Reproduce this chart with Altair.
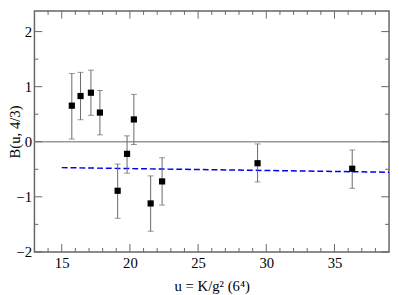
import altair as alt
import pandas as pd

# data
u_vals = [15.74, 16.38, 17.14, 17.8, 19.1, 19.79, 20.29, 21.52, 22.36, 29.36, 36.3]
b_vals = [0.655, 0.83, 0.89, 0.53, -0.89, -0.22, 0.405, -1.12, -0.72, -0.39, -0.49]
b_hi = [1.24, 1.26, 1.30, 0.93, -0.405, 0.107, 0.86, -0.62, -0.29, -0.04, -0.15]
b_lo = [0.05, 0.40, 0.48, 0.125, -1.39, -0.57, -0.05, -1.625, -1.15, -0.73, -0.845]

fit_u = [15, 39]
fit_b = [-0.47, -0.553]

x_major = [15, 20, 25, 30, 35]
x_minor = [14, 16, 17, 18, 19, 21, 22, 23, 24, 26, 27, 28, 29, 31, 32, 33, 34, 36, 37, 38]
y_major = [-2, -1, 0, 1, 2]
y_minor = [-1.5, -0.5, 0.5, 1.5]

W, H = 362, 246
FONT = "Liberation Serif"
FRAME = "#666666"

pts = pd.DataFrame({"u": u_vals, "B": b_vals, "hi": b_hi, "lo": b_lo})
fit = pd.DataFrame({"u": fit_u, "B": fit_b})

xs = alt.Scale(domain=[13, 39], nice=False, zero=False)
ys = alt.Scale(domain=[-2, 2.375], nice=False, zero=False)

xax = alt.Axis(values=x_major, format="d", labelPadding=4,
               labelFont=FONT, titleFont=FONT,
               title="u = K/g² (6⁴)", titlePadding=8)
yax = alt.Axis(values=y_major, format="d", labelPadding=3,
               labelFont=FONT, titleFont=FONT,
               title="B(u, 4/3)", titleX=-20, titleY=H / 2, titleAngle=270,
               titleAlign="center", titleBaseline="middle")

base = alt.Chart(pts)

zero = alt.Chart(pd.DataFrame({"z": [0]})).mark_rule(color="#999999", strokeWidth=1.5).encode(
    y=alt.Y("z:Q", scale=ys, axis=yax)
)

fitline = alt.Chart(fit).mark_line(color="#0000ee", strokeDash=[6, 3], strokeWidth=1.5).encode(
    x=alt.X("u:Q", scale=xs, axis=xax),
    y=alt.Y("B:Q", scale=ys),
)

bars = base.mark_rule(color="#666666", strokeWidth=1).encode(
    x=alt.X("u:Q", scale=xs), y=alt.Y("lo:Q", scale=ys), y2="hi:Q"
)
cap_hi = base.mark_tick(color="#666666", orient="horizontal", size=6, thickness=1).encode(
    x=alt.X("u:Q", scale=xs), y=alt.Y("hi:Q", scale=ys)
)
cap_lo = base.mark_tick(color="#666666", orient="horizontal", size=6, thickness=1).encode(
    x=alt.X("u:Q", scale=xs), y=alt.Y("lo:Q", scale=ys)
)
squares = base.mark_square(color="black", size=40, opacity=1).encode(
    x=alt.X("u:Q", scale=xs), y=alt.Y("B:Q", scale=ys)
)

def xticks(vals, length):
    d = pd.DataFrame({"t": vals})
    bot = alt.Chart(d).mark_rule(color=FRAME, strokeWidth=1).encode(
        x=alt.X("t:Q", scale=xs), y=alt.value(H), y2=alt.value(H - length))
    top = alt.Chart(d).mark_rule(color=FRAME, strokeWidth=1).encode(
        x=alt.X("t:Q", scale=xs), y=alt.value(0), y2=alt.value(length))
    return [bot, top]

def yticks(vals, length):
    d = pd.DataFrame({"t": vals})
    left = alt.Chart(d).mark_rule(color=FRAME, strokeWidth=1).encode(
        y=alt.Y("t:Q", scale=ys), x=alt.value(0), x2=alt.value(length))
    right = alt.Chart(d).mark_rule(color=FRAME, strokeWidth=1).encode(
        y=alt.Y("t:Q", scale=ys), x=alt.value(W), x2=alt.value(W - length))
    return [left, right]

layers = [zero, fitline] + xticks(x_major, 8) + xticks(x_minor, 4) + \
    yticks(y_major, 8) + yticks(y_minor, 4) + [bars, cap_hi, cap_lo, squares]

chart = alt.layer(*layers).properties(
    width=W, height=H,
    autosize=alt.AutoSizeParams(type="none"),
    padding={"left": 27, "top": 0, "right": 2, "bottom": 41},
    background="white",
).configure(font=FONT).configure_view(stroke=FRAME, strokeWidth=1.5).configure_axis(
    ticks=False, domain=False, grid=False,
    labelFont=FONT, labelFontSize=15, labelColor="black",
    titleFont=FONT, titleFontSize=15, titleFontWeight="normal", titleColor="black",
)

chart.save("out.html", embed_options={"renderer": "svg", "actions": False})
